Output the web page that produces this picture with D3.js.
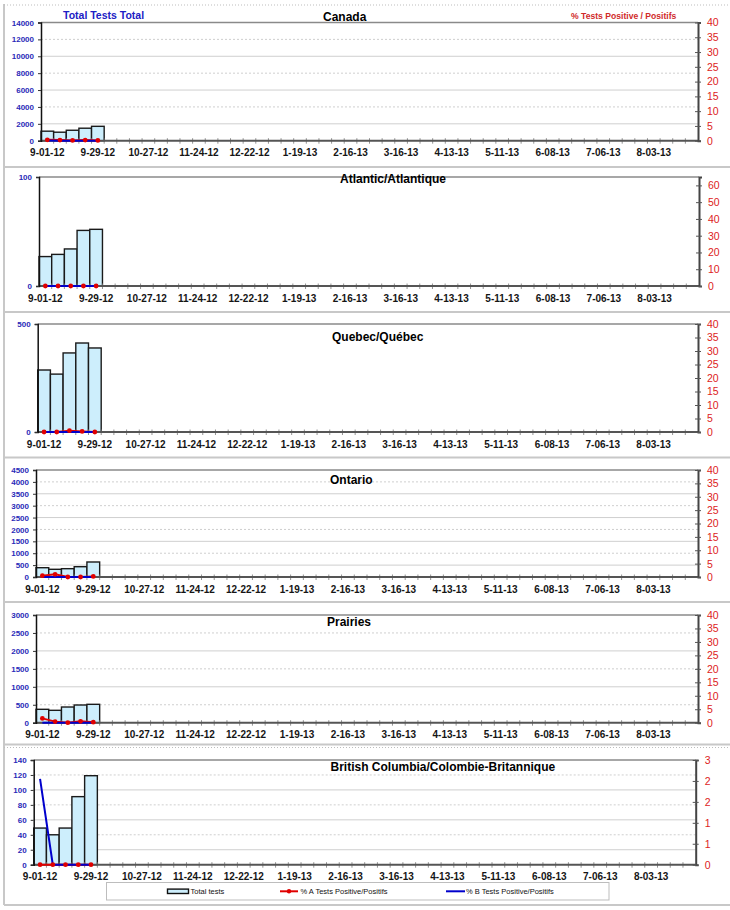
<!DOCTYPE html>
<html>
<head>
<meta charset="utf-8">
<script src="https://cdn.jsdelivr.net/npm/d3@7/dist/d3.min.js"></script>
<style>
  html, body { margin: 0; padding: 0; background: #fff; }
  svg { display: block; font-family: "Liberation Sans", Arial, sans-serif; }
</style>
</head>
<body>
<svg id="chart" width="730" height="910"></svg>
<script>
// ---------- DATA ----------
const weeks = ["9-01-12","9-08-12","9-15-12","9-22-12","9-29-12","10-06-12","10-13-12","10-20-12","10-27-12",
  "11-03-12","11-10-12","11-17-12","11-24-12","12-01-12","12-08-12","12-15-12","12-22-12","12-29-12",
  "1-05-13","1-12-13","1-19-13","1-26-13","2-02-13","2-09-13","2-16-13","2-23-13","3-02-13","3-09-13",
  "3-16-13","3-23-13","3-30-13","4-06-13","4-13-13","4-20-13","4-27-13","5-04-13","5-11-13","5-18-13",
  "5-25-13","6-01-13","6-08-13","6-15-13","6-22-13","6-29-13","7-06-13","7-13-13","7-20-13","7-27-13",
  "8-03-13","8-10-13","8-17-13","8-24-13"];
const xTickLabels = ["9-01-12","9-29-12","10-27-12","11-24-12","12-22-12","1-19-13","2-16-13","3-16-13",
  "4-13-13","5-11-13","6-08-13","7-06-13","8-03-13"];

const regionNames = ["Canada","Atlantic/Atlantique","Quebec/Québec","Ontario","Prairies",
  "British Columbia/Colombie-Britannique"];

const canadaTests   = [1127, 1006, 1236, 1480, 1703];
const canadaPctA    = [0.3, 0.2, 0.1, 0.2, 0.1];
const canadaPctB    = [0.1, 0, 0, 0, 0];
const atlanticTests = [27, 29, 34, 51, 52];
const atlanticPctA  = [0, 0, 0, 0, 0];
const atlanticPctB  = [0, 0, 0, 0, 0];
const quebecTests   = [287, 268, 366, 412, 389];
const quebecPctA    = [0, 0, 0.5, 0.2, 0];
const quebecPctB    = [0, 0, 0, 0, 0];
const ontarioTests  = [391, 324, 350, 433, 631];
const ontarioPctA   = [0.5, 1.0, 0, 0, 0.2];
const ontarioPctB   = [0, 0, 0, 0, 0];
const prairiesTests = [373, 345, 437, 493, 512];
const prairiesPctA  = [1.6, 0.4, 0, 0.5, 0.2];
const prairiesPctB  = [0, 0, 0, 0, 0];
const bcTests       = [49, 40, 49, 91, 119];
const bcPctA        = [0, 0, 0, 0, 0];
const bcPctB        = [2.05, 0, 0, 0, 0];

const canadaLeftTicks   = [0,2000,4000,6000,8000,10000,12000,14000];
const atlanticLeftTicks = [0,100];
const quebecLeftTicks   = [0,500];
const ontarioLeftTicks  = [0,500,1000,1500,2000,2500,3000,3500,4000,4500];
const prairiesLeftTicks = [0,500,1000,1500,2000,2500,3000];
const bcLeftTicks       = [0,20,40,60,80,100,120,140];

const pct40Ticks = [0,5,10,15,20,25,30,35,40];
const atlanticRightTicks = [0,10,20,30,40,50,60];
const bcRightTicks = [0,0.5,1,1.5,2,2.5];
const bcRightTickLabels = ["0","1","1","2","2","3"];

const leftMax  = [14000, 100, 500, 4500, 3000, 140];
const rightMax = [40, 65, 40, 40, 40, 2.5];

const legendLabels = ["Total tests","% A Tests Positive/Positifs","% B Tests Positive/Positifs"];

// ---------- TABLE ----------
const panelsData = [
  {tests: canadaTests, a: canadaPctA, b: canadaPctB, lt: canadaLeftTicks, rt: pct40Ticks, grid: true},
  {tests: atlanticTests, a: atlanticPctA, b: atlanticPctB, lt: atlanticLeftTicks, rt: atlanticRightTicks, grid: false},
  {tests: quebecTests, a: quebecPctA, b: quebecPctB, lt: quebecLeftTicks, rt: pct40Ticks, grid: false},
  {tests: ontarioTests, a: ontarioPctA, b: ontarioPctB, lt: ontarioLeftTicks, rt: pct40Ticks, grid: true},
  {tests: prairiesTests, a: prairiesPctA, b: prairiesPctB, lt: prairiesLeftTicks, rt: pct40Ticks, grid: true},
  {tests: bcTests, a: bcPctA, b: bcPctB, lt: bcLeftTicks, rt: bcRightTicks, rtl: bcRightTickLabels, grid: true}
].map((d, i) => Object.assign(d, {name: regionNames[i], lmax: leftMax[i], rmax: rightMax[i]}));

// ---------- LAYOUT (style only) ----------
const layout = [
  {left: 41,   right: 698,   top: 22.5, bottom: 140.7, titleX: 323, titleY: 20.5},
  {left: 39,   right: 699,   top: 177,  bottom: 286,   titleX: 340, titleY: 182.5},
  {left: 37.7, right: 698,   top: 324,  bottom: 432,   titleX: 332, titleY: 341},
  {left: 36,   right: 698,   top: 470,  bottom: 577,   titleX: 330, titleY: 484},
  {left: 36,   right: 698,   top: 615,  bottom: 722.7, titleX: 327, titleY: 626},
  {left: 33.7, right: 695.7, top: 760,  bottom: 864.7, titleX: 330.5, titleY: 771}
];

const svg = d3.select("#chart");
const BLUE_TXT = "#2a2ab8", RED_TXT = "#dd1c1c";
const BAR_FILL = "#cdeefc";

// ---------- FRAMES ----------
const frame = svg.append("g");
frame.append("line").attr("x1", 4).attr("x2", 4).attr("y1", 4).attr("y2", 905)
  .attr("stroke", "#c8c8c8").attr("stroke-width", 2);
[5, 747.5].forEach(y => frame.append("line").attr("x1", 4).attr("x2", 730).attr("y1", y).attr("y2", y)
  .attr("stroke", "#bdbdbd").attr("stroke-width", 1).attr("stroke-dasharray", "1,2"));
[167, 312, 457.5, 602, 744.5, 905].forEach(y => frame.append("line").attr("x1", 4).attr("x2", 730)
  .attr("y1", y).attr("y2", y).attr("stroke", "#c8c8c8").attr("stroke-width", 2));

// ---------- HEADERS ----------
svg.append("text").attr("x", 63).attr("y", 19).attr("fill", "#2020c4")
  .attr("font-size", 10.5).attr("font-weight", "bold").text("Total Tests Total");
svg.append("text").attr("x", 571).attr("y", 18.5).attr("fill", "#d02a2a")
  .attr("font-size", 8.6).attr("font-weight", "bold").text("% Tests Positive / Positifs");

// ---------- PANELS ----------
panelsData.forEach((p, i) => {
  const L = layout[i];
  const g = svg.append("g");
  const x = d3.scaleBand().domain(weeks).range([L.left, L.right]).paddingInner(0).paddingOuter(0);
  const yL = d3.scaleLinear().domain([0, p.lmax]).range([L.bottom, L.top]);
  const yR = d3.scaleLinear().domain([0, p.rmax]).range([L.bottom, L.top]);

  // gridlines
  if (p.grid) {
    const gl = p.lt.filter(t => t > 0 && t < p.lmax);
    g.selectAll(".grid").data(gl).enter().append("line")
      .attr("x1", L.left).attr("x2", L.right)
      .attr("y1", d => yL(d)).attr("y2", d => yL(d))
      .attr("stroke", "#cfcfcf").attr("stroke-width", 1)
      .attr("stroke-dasharray", (d, k) => ((gl.length - 1 - k) % 2 === 0) ? "2,2" : null);
  }

  // top border of plot
  g.append("line").attr("x1", L.left).attr("x2", L.right).attr("y1", L.top).attr("y2", L.top)
    .attr("stroke", "#8a8a8a").attr("stroke-width", 1.5);

  // bars
  g.selectAll(".bar").data(p.tests).enter().append("rect")
    .attr("x", (d, k) => x(weeks[k]))
    .attr("y", d => yL(d))
    .attr("width", x.bandwidth())
    .attr("height", d => L.bottom - yL(d))
    .attr("fill", BAR_FILL).attr("stroke", "#1a1a1a").attr("stroke-width", 1.4);

  // x axis
  const xAxis = d3.axisBottom(x).tickSize(0).tickFormat(d => xTickLabels.includes(d) ? d : "");
  const xa = g.append("g").attr("transform", `translate(0,${L.bottom})`).call(xAxis);
  xa.select(".domain").remove();
  xa.selectAll("text").attr("dy", 0).attr("y", 15.5).attr("font-size", 10).attr("font-weight", "bold")
    .attr("fill", "#151515").attr("font-family", "Liberation Sans, Arial, sans-serif");
  // minor ticks at band boundaries
  g.selectAll(".xt").data(weeks.slice(1)).enter().append("line")
    .attr("x1", d => x(d)).attr("x2", d => x(d))
    .attr("y1", L.bottom - 2.5).attr("y2", L.bottom + 3)
    .attr("stroke", "#777").attr("stroke-width", 0.8);
  g.append("line").attr("x1", L.left).attr("x2", L.right).attr("y1", L.bottom).attr("y2", L.bottom)
    .attr("stroke", "#555").attr("stroke-width", 2);

  // left axis
  const la = g.append("g").attr("transform", `translate(${L.left},0)`)
    .call(d3.axisLeft(yL).tickValues(p.lt).tickSize(3).tickPadding(4).tickFormat(d3.format("d")));
  la.select(".domain").attr("stroke", "#111").attr("stroke-width", 1.5);
  la.selectAll(".tick line").attr("stroke", "#333");
  la.selectAll("text").attr("fill", BLUE_TXT).attr("font-size", 8).attr("font-weight", "bold")
    .attr("font-family", "Liberation Sans, Arial, sans-serif");

  // right axis
  const ra = g.append("g").attr("transform", `translate(${L.right},0)`)
    .call(d3.axisRight(yR).tickValues(p.rt).tickSize(3).tickPadding(6)
      .tickFormat((d, k) => p.rtl ? p.rtl[k] : d3.format("d")(d)));
  ra.select(".domain").attr("stroke", "#444").attr("stroke-width", 2);
  ra.selectAll(".tick line").attr("x1", -3).attr("stroke", "#555");
  ra.selectAll("text").attr("fill", RED_TXT).attr("font-size", 10.5)
    .attr("font-family", "Liberation Sans, Arial, sans-serif");

  // lines
  const cx = k => x(weeks[k]) + x.bandwidth() / 2;
  const lineA = d3.line().x((d, k) => cx(k)).y(d => yR(d));
  g.append("path").datum(p.a).attr("d", lineA).attr("fill", "none")
    .attr("stroke", "#e00000").attr("stroke-width", 2);
  g.append("path").datum(p.b).attr("d", lineA).attr("fill", "none")
    .attr("stroke", "#0000cc").attr("stroke-width", 2);
  g.selectAll(".ma").data(p.a).enter().append("circle")
    .attr("cx", (d, k) => cx(k)).attr("cy", d => yR(d)).attr("r", 2.4).attr("fill", "#e00000");

  // title
  g.append("text").attr("x", L.titleX).attr("y", L.titleY).attr("font-size", 12)
    .attr("font-weight", "bold").attr("fill", "#000").text(p.name);
});

// ---------- LEGEND ----------
const lg = svg.append("g");
lg.append("rect").attr("x", 106.5).attr("y", 882.5).attr("width", 502.5).attr("height", 17.5)
  .attr("fill", "#fff").attr("stroke", "#bdbdbd").attr("stroke-width", 1);
const ly = 891.3;
lg.append("rect").attr("x", 167.5).attr("y", ly - 2.2).attr("width", 21).attr("height", 4.4)
  .attr("fill", BAR_FILL).attr("stroke", "#111").attr("stroke-width", 1.4);
lg.append("line").attr("x1", 280).attr("x2", 298).attr("y1", ly).attr("y2", ly)
  .attr("stroke", "#e00000").attr("stroke-width", 2);
lg.append("circle").attr("cx", 289).attr("cy", ly).attr("r", 2.2).attr("fill", "#e00000");
lg.append("line").attr("x1", 446).attr("x2", 465).attr("y1", ly).attr("y2", ly)
  .attr("stroke", "#0000cc").attr("stroke-width", 2);
[190.5, 300.5, 466].forEach((lx, k) => lg.append("text").attr("x", lx).attr("y", ly + 2.8)
  .attr("font-size", 7.5).attr("fill", "#111").text(legendLabels[k]));
</script>
</body>
</html>
